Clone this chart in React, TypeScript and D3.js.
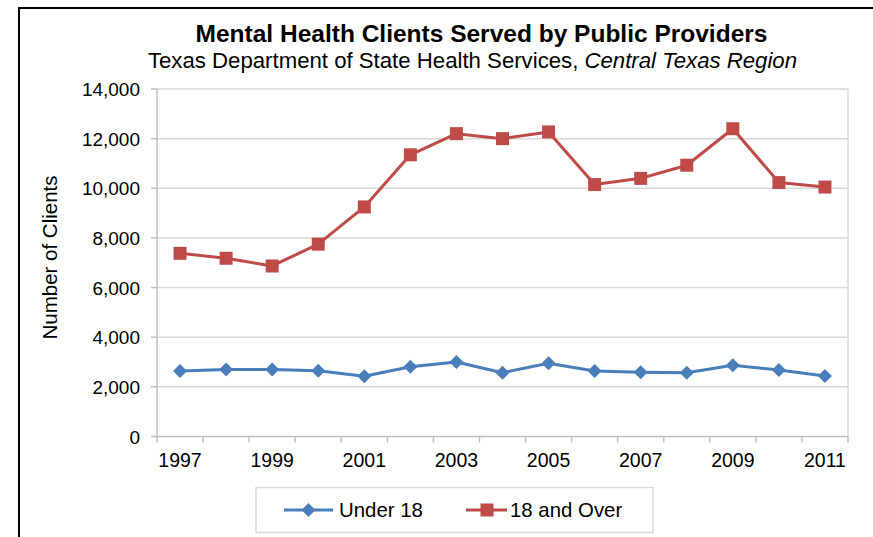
import React from "react";
import * as d3 from "d3";

const years = ["1997","1998","1999","2000","2001","2002","2003","2004","2005","2006","2007","2008","2009","2010","2011"];
const under18 = [2640,2700,2700,2650,2430,2810,3000,2570,2950,2640,2590,2570,2870,2680,2440];
const over18 = [7380,7180,6870,7750,9250,11350,12200,12000,12270,10150,10400,10930,12400,10230,10050];
const yTicks = [0,2000,4000,6000,8000,10000,12000,14000];
const xLabelYears = ["1997","1999","2001","2003","2005","2007","2009","2011"];

const W = 873, H = 537;
const left = 157, right = 848, top = 89, bottom = 436.5;
const BLUE = "#4A7EBB", RED = "#BE4B48";
const FONT = "Liberation Sans, Arial, sans-serif";

export default function App() {
  const x = d3.scaleBand<string>().domain(years).range([left, right]).paddingInner(0).paddingOuter(0);
  const y = d3.scaleLinear().domain([0, 14000]).range([bottom, top]);
  const cx = (yr: string) => (x(yr) as number) + x.bandwidth() / 2;
  const line = d3.line<number>().x((_, i) => cx(years[i])).y(d => y(d));
  const fmt = d3.format(",");
  const boundaries = years.map(yr => x(yr) as number).concat([right]);
  const diamond = (px: number, py: number, r: number) => `M${px},${py - r}L${px + r},${py}L${px},${py + r}L${px - r},${py}Z`;

  return (
    <svg width={W} height={H} style={{ position: "absolute", left: 0, top: 0, background: "#fff" }} fontFamily={FONT}>
      <rect x={19} y={8} width={900} height={600} fill="#fff" stroke="#000" strokeWidth={2} />
      <text x={481.5} y={42} textAnchor="middle" fontSize={24.5} fontWeight="bold">Mental Health Clients Served by Public Providers</text>
      <text x={472.5} y={68} textAnchor="middle" fontSize={22.2}>Texas Department of State Health Services, <tspan fontStyle="italic">Central Texas Region</tspan></text>
      {yTicks.map(t => (
        <g key={t}>
          {t > 0 && <line x1={left} x2={right} y1={y(t)} y2={y(t)} stroke="#D9D9D9" strokeWidth={1.5} />}
          <line x1={left - 6} x2={left} y1={y(t)} y2={y(t)} stroke="#BFBFBF" strokeWidth={1.5} />
          <text x={140} y={y(t) + 7} textAnchor="end" fontSize={19}>{fmt(t)}</text>
        </g>
      ))}
      <line x1={right} x2={right} y1={top} y2={bottom} stroke="#D9D9D9" strokeWidth={1.5} />
      <line x1={left} x2={left} y1={top} y2={bottom} stroke="#BFBFBF" strokeWidth={1.5} />
      <line x1={left} x2={right} y1={bottom} y2={bottom} stroke="#BFBFBF" strokeWidth={1.5} />
      {boundaries.map((b, i) => (
        <line key={i} x1={b} x2={b} y1={bottom} y2={bottom + 6} stroke="#BFBFBF" strokeWidth={1.5} />
      ))}
      {xLabelYears.map(yr => (
        <text key={yr} x={cx(yr)} y={467} textAnchor="middle" fontSize={19.5}>{yr}</text>
      ))}
      <text transform={`translate(57,257.5) rotate(-90)`} textAnchor="middle" fontSize={20.5}>Number of Clients</text>
      <path d={line(over18) || ""} fill="none" stroke={RED} strokeWidth={3} strokeLinejoin="round" />
      {over18.map((v, i) => (
        <rect key={i} x={cx(years[i]) - 6.5} y={y(v) - 6.5} width={13} height={13} fill={RED} />
      ))}
      <path d={line(under18) || ""} fill="none" stroke={BLUE} strokeWidth={3} strokeLinejoin="round" />
      {under18.map((v, i) => (
        <path key={i} d={diamond(cx(years[i]), y(v), 7)} fill={BLUE} />
      ))}
      <rect x={256} y={487.5} width={397} height={45} fill="#fff" stroke="#D9D9D9" strokeWidth={1.5} />
      <line x1={284} x2={333} y1={510} y2={510} stroke={BLUE} strokeWidth={3} />
      <path d={diamond(308.5, 510, 7)} fill={BLUE} />
      <text x={339} y={517} fontSize={20.4}>Under 18</text>
      <line x1={466} x2={507} y1={510} y2={510} stroke={RED} strokeWidth={3} />
      <rect x={480.5} y={503.5} width={13} height={13} fill={RED} />
      <text x={510} y={517} fontSize={20.4}>18 and Over</text>
    </svg>
  );
}
